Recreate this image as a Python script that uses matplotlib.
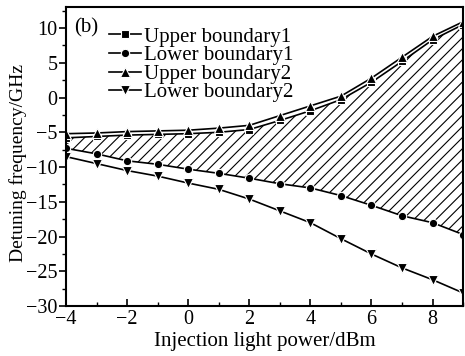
import matplotlib
matplotlib.use("Agg")
import matplotlib.pyplot as plt
import numpy as np

# Data
power = [-4, -3, -2, -1, 0, 1, 2, 3, 4, 5, 6, 7, 8, 9]
upper1 = [-5.8, -5.6, -5.4, -5.3, -5.2, -5.0, -4.6, -3.3, -1.9, -0.3, 2.2, 5.2, 8.3, 10.5]
lower1 = [-7.3, -8.1, -9.1, -9.6, -10.3, -10.9, -11.6, -12.4, -13.0, -14.1, -15.5, -17.0, -18.0, -19.7]
upper2 = [-5.2, -5.1, -4.9, -4.8, -4.7, -4.4, -4.0, -2.6, -1.2, 0.2, 2.8, 5.8, 8.8, 10.9]
lower2 = [-8.5, -9.5, -10.5, -11.3, -12.3, -13.2, -14.6, -16.3, -18.0, -20.3, -22.5, -24.5, -26.2, -28.1]

plt.rcParams['font.family'] = ['Liberation Serif', 'DejaVu Serif']
plt.rcParams['hatch.linewidth'] = 0.8

fig = plt.figure(figsize=(4.65, 3.56), dpi=100)
ax = fig.add_axes([0.142, 0.140, 0.854, 0.840])

# hatched region between the boundaries of case 1
ax.fill_between(power, upper1, lower1, facecolor="none", edgecolor="black",
                hatch="///", linewidth=0)

style = dict(color="black", lw=1.2, mec="white", mew=0.8)
ax.plot(power, upper1, marker="s", ms=6, label="Upper boundary1", **style)
ax.plot(power, lower1, marker="o", ms=6, label="Lower boundary1", **style)
ax.plot(power, upper2, marker="^", ms=7.5, label="Upper boundary2", **style)
ax.plot(power, lower2, marker="v", ms=7.5, label="Lower boundary2", **style)

ax.set_xlim(-4, 9)
ax.set_ylim(-30, 13)
ax.set_xticks([-4, -2, 0, 2, 4, 6, 8])
ax.set_xticks(np.arange(-4, 10, 1), minor=True)
ax.set_yticks([-30, -25, -20, -15, -10, -5, 0, 5, 10])
ax.set_yticks(np.arange(-30, 12.6, 2.5), minor=True)
ax.set_xticklabels(["\u22124", "\u22122", "0", "2", "4", "6", "8"])
ax.set_yticklabels(["\u221230", "\u221225", "\u221220", "\u221215", "\u221210",
                    "\u22125", "0", "5", "10"])
ax.tick_params(axis="x", which="both", direction="in", top=False, labelsize=14.5, pad=3)
ax.tick_params(axis="y", which="both", direction="out", right=False, labelsize=14.5, pad=1)
ax.tick_params(which="major", length=5, width=1.2)
ax.tick_params(which="minor", length=3, width=1.0)
for s in ax.spines.values():
    s.set_linewidth(1.5)

ax.set_xlabel("Injection light power/dBm", fontsize=15, labelpad=2)
ax.set_ylabel("Detuning frequency/GHz", fontsize=14)
ax.yaxis.set_label_coords(-0.098, 0.48)

ax.text(0.02, 0.93, "(b)", transform=ax.transAxes, fontsize=15, va="center", ha="left")

ax.legend(loc="upper left", bbox_to_anchor=(0.108, 0.933), frameon=False,
          fontsize=15, handlelength=1.55, handletextpad=0.15, labelspacing=-0.05,
          borderaxespad=0, borderpad=0)

fig.savefig("out.png", dpi=100)
